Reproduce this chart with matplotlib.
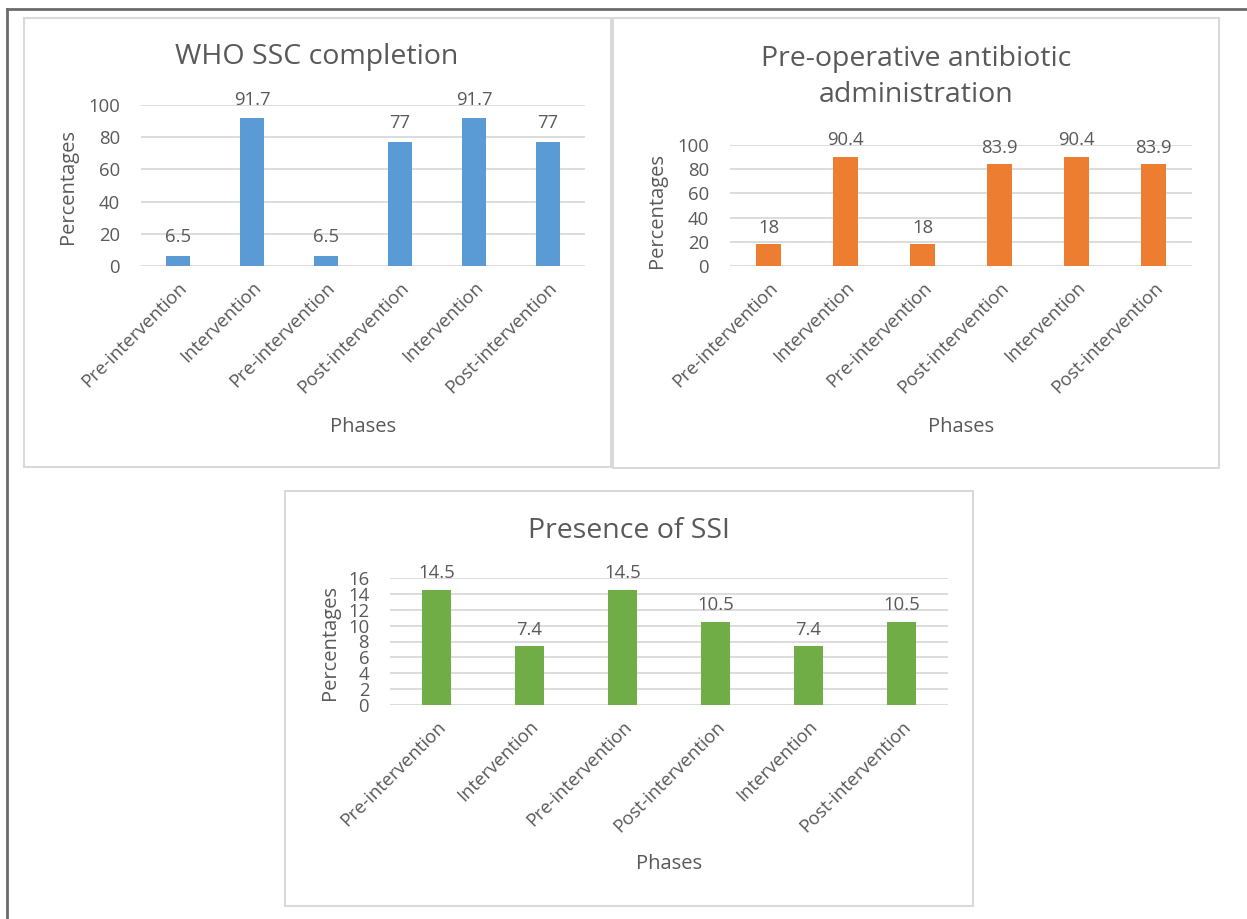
import matplotlib
matplotlib.use('Agg')
import matplotlib.pyplot as plt
from matplotlib.patches import Rectangle

plt.rcParams['font.family'] = ['Open Sans', 'DejaVu Sans']

phases = ['Pre-intervention', 'Intervention', 'Pre-intervention',
          'Post-intervention', 'Intervention', 'Post-intervention']

ssc_values = [6.5, 91.7, 6.5, 77, 91.7, 77]
abx_values = [18, 90.4, 18, 83.9, 90.4, 83.9]
ssi_values = [14.5, 7.4, 14.5, 10.5, 7.4, 10.5]

ssc_ticks = [0, 20, 40, 60, 80, 100]
abx_ticks = [0, 20, 40, 60, 80, 100]
ssi_ticks = [0, 2, 4, 6, 8, 10, 12, 14, 16]

W, H = 1247, 919
TXT = '#595959'
GRID = '#d9d9d9'

fig = plt.figure(figsize=(W / 100, H / 100), dpi=100)
fig.patch.set_facecolor('white')


def px_rect(x0, y0, x1, y1):
    # pixel box (top-left origin) -> figure fraction [l, b, w, h]
    return [x0 / W, 1 - y1 / H, (x1 - x0) / W, (y1 - y0) / H]


def frame(x0, y0, x1, y1, color='#d9d9d9', lw=1.5):
    l, b, w, h = px_rect(x0, y0, x1, y1)
    fig.patches.append(Rectangle((l, b), w, h, transform=fig.transFigure,
                                 fill=False, edgecolor=color, linewidth=lw))


# outer page line (top and left)
fig.add_artist(plt.Line2D([7 / W, 7 / W], [0, 1 - 9 / H], color='#6b6b6b', lw=2,
                          transform=fig.transFigure))
fig.add_artist(plt.Line2D([7 / W, 1], [1 - 9 / H, 1 - 9 / H], color='#6b6b6b', lw=2,
                          transform=fig.transFigure))

frame(24, 18, 611, 467)
frame(613, 18, 1219, 468)
frame(285, 491, 973, 906)


def bar_panel(rect, values, ticks, color, title, title_xy, xlab_xy, ylab_xy):
    ax = fig.add_axes(px_rect(*rect))
    x = range(len(values))
    ax.bar(x, values, width=0.32, color=color, zorder=3)
    ax.set_xlim(-0.5, len(values) - 0.5)
    ax.set_ylim(ticks[0], ticks[-1])
    ax.set_yticks(ticks)
    ax.yaxis.grid(True, color=GRID, linewidth=1.3, zorder=0)
    ax.set_axisbelow(True)
    for s in ax.spines.values():
        s.set_visible(False)
    ax.tick_params(axis='both', length=0, colors=TXT, labelsize=13.3)
    ax.tick_params(axis='y', pad=15)
    ax.tick_params(axis='x', pad=9)
    ax.set_xticks(list(x))
    ax.set_xticklabels(phases, rotation=45, ha='right', rotation_mode='anchor')
    ax.set_ylabel('Percentages', color=TXT, fontsize=14.5, va='center')
    ax.yaxis.set_label_coords(ylab_xy[0] / W, 1 - ylab_xy[1] / H,
                              transform=fig.transFigure)
    top = ticks[-1]
    for xi, v in zip(x, values):
        ax.text(xi, v + top * 0.06, f'{v:g}', ha='center', va='bottom',
                color=TXT, fontsize=13.3, clip_on=False)
    fig.text(title_xy[0] / W, 1 - title_xy[1] / H, title, ha='center', va='center',
             color=TXT, fontsize=20.5, linespacing=1.4)
    fig.text(xlab_xy[0] / W, 1 - xlab_xy[1] / H, 'Phases', ha='center', va='center',
             color=TXT, fontsize=14.5)
    return ax


bar_panel((141, 105, 585, 266), ssc_values, ssc_ticks, '#5b9bd5',
          'WHO SSC completion', (317, 57), (363, 427), (68, 186))
bar_panel((730, 145, 1192, 266), abx_values, abx_ticks, '#ed7d31',
          'Pre-operative antibiotic\nadministration', (916, 77), (961, 427), (657, 210))
bar_panel((390, 578, 948, 705), ssi_values, ssi_ticks, '#70ad47',
          'Presence of SSI', (629, 531), (669, 864), (330, 642))

fig.savefig('out.png', dpi=100, facecolor='white')
